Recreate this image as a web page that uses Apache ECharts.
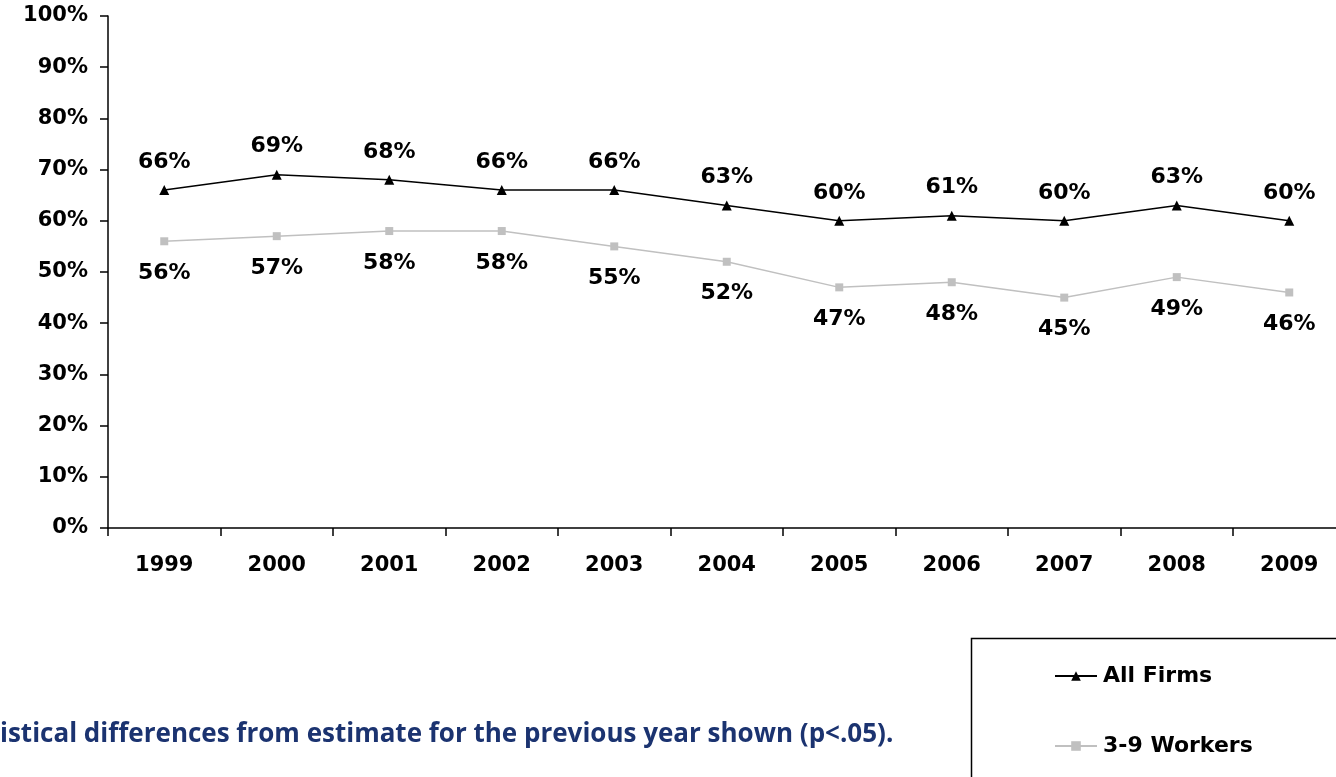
<!DOCTYPE html>
<html>
<head>
<meta charset="utf-8">
<title>Offer rates, 1999-2009</title>
<script src="https://cdn.jsdelivr.net/npm/echarts@6/dist/echarts.min.js"></script>
<style>
  html, body { margin: 0; padding: 0; background: #ffffff; }
  #chart { width: 1336px; height: 777px; }
</style>
</head>
<body>
<div id="chart"></div>
<script>
// Survey years on the category axis
const years = ['1999', '2000', '2001', '2002', '2003', '2004', '2005', '2006', '2007', '2008', '2009'];

// Percentage of firms offering, by year
const allFirms = [66, 69, 68, 66, 66, 63, 60, 61, 60, 63, 60];
const smallFirms = [56, 57, 58, 58, 55, 52, 47, 48, 45, 49, 46];

const seriesNames = ['All Firms', '3-9 Workers'];
const footnote = 'istical differences from estimate for the previous year shown (p<.05).';

const FONT = '"DejaVu Sans", Verdana, sans-serif';
const labelStyle = { fontFamily: FONT, fontWeight: 'bold', fontSize: 21, color: '#000000' };
const dataLabelStyle = { fontFamily: FONT, fontWeight: 'bold', fontSize: 22, color: '#000000' };

const chart = echarts.init(document.getElementById('chart'), null, { renderer: 'canvas' });

chart.setOption({
  backgroundColor: '#ffffff',
  animation: false,
  grid: {
    left: 108,
    top: 16,
    width: 1237.5,
    bottom: 249,
    outerBoundsMode: 'none',
    containLabel: false
  },
  xAxis: {
    type: 'category',
    data: years,
    boundaryGap: true,
    axisLine: { lineStyle: { color: '#000000', width: 1.5 } },
    axisTick: { show: true, alignWithLabel: false, length: 8, inside: false, lineStyle: { color: '#000000', width: 1.5 } },
    axisLabel: Object.assign({ margin: 27, interval: 0 }, labelStyle),
    splitLine: { show: false }
  },
  yAxis: {
    type: 'value',
    min: 0,
    max: 100,
    interval: 10,
    axisLine: { show: true, lineStyle: { color: '#000000', width: 1.5 } },
    axisTick: { show: true, length: 8, lineStyle: { color: '#000000', width: 1.5 } },
    axisLabel: Object.assign({ margin: 20, formatter: '{value}%' }, labelStyle),
    splitLine: { show: false }
  },
  legend: {
    orient: 'vertical',
    left: 1049,
    top: 660,
    itemWidth: 42,
    itemHeight: 12,
    itemGap: 48,
    textStyle: { fontFamily: FONT, fontWeight: 'bold', fontSize: 22, color: '#000000', padding: [0, 0, 0, 1] },
    data: seriesNames
  },
  graphic: [
    {
      type: 'rect',
      left: 969,
      top: 636,
      shape: { width: 420, height: 200 },
      style: { fill: 'none', stroke: '#000000', lineWidth: 1.5 },
      silent: true
    },
    {
      type: 'text',
      left: 0,
      top: 722,
      style: {
        text: footnote,
        font: 'bold 26px "Open Sans", "Noto Sans", sans-serif',
        fill: '#1B3370'
      },
      silent: true
    }
  ],
  series: [
    {
      name: seriesNames[0],
      type: 'line',
      data: allFirms,
      symbol: 'triangle',
      symbolSize: 10,
      lineStyle: { color: '#000000', width: 1.5 },
      itemStyle: { color: '#000000' },
      label: Object.assign({ show: true, position: 'top', distance: 12, formatter: '{c}%' }, dataLabelStyle)
    },
    {
      name: seriesNames[1],
      type: 'line',
      data: smallFirms,
      symbol: 'rect',
      symbolSize: 8,
      lineStyle: { color: '#C0C0C0', width: 1.5 },
      itemStyle: { color: '#C0C0C0' },
      label: Object.assign({ show: true, position: 'bottom', distance: 17, formatter: '{c}%' }, dataLabelStyle)
    }
  ]
});
</script>
</body>
</html>
